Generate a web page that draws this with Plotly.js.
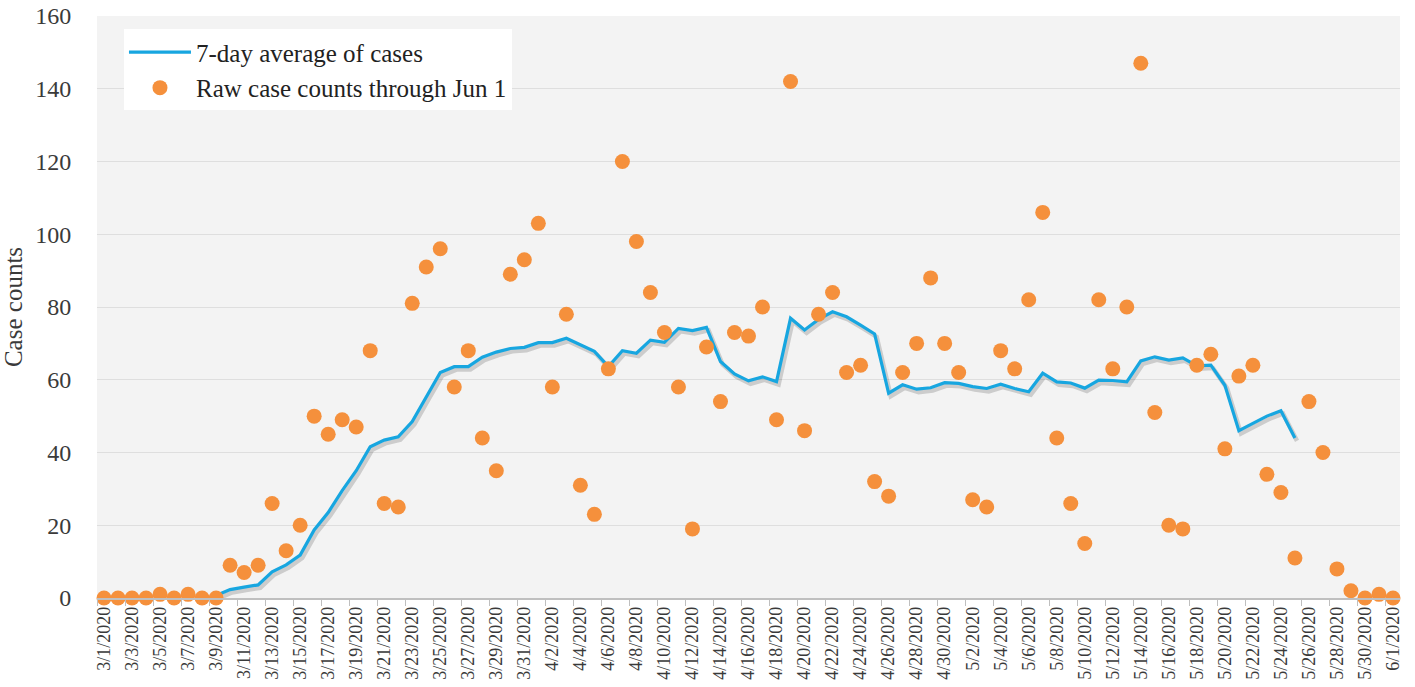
<!DOCTYPE html>
<html>
<head>
<meta charset="utf-8">
<script src="https://cdn.plot.ly/plotly-3.0.1.min.js"></script>
<style>
  html, body { margin: 0; padding: 0; background: #ffffff; }
  #chart { width: 1415px; height: 687px; }
</style>
</head>
<body>
<div id="chart"></div>
<script>
// Category labels (dates)
var dates = [
  "3/1/2020","3/2/2020","3/3/2020","3/4/2020","3/5/2020","3/6/2020","3/7/2020","3/8/2020","3/9/2020","3/10/2020",
  "3/11/2020","3/12/2020","3/13/2020","3/14/2020","3/15/2020","3/16/2020","3/17/2020","3/18/2020","3/19/2020","3/20/2020",
  "3/21/2020","3/22/2020","3/23/2020","3/24/2020","3/25/2020","3/26/2020","3/27/2020","3/28/2020","3/29/2020","3/30/2020","3/31/2020",
  "4/1/2020","4/2/2020","4/3/2020","4/4/2020","4/5/2020","4/6/2020","4/7/2020","4/8/2020","4/9/2020","4/10/2020",
  "4/11/2020","4/12/2020","4/13/2020","4/14/2020","4/15/2020","4/16/2020","4/17/2020","4/18/2020","4/19/2020","4/20/2020",
  "4/21/2020","4/22/2020","4/23/2020","4/24/2020","4/25/2020","4/26/2020","4/27/2020","4/28/2020","4/29/2020","4/30/2020",
  "5/1/2020","5/2/2020","5/3/2020","5/4/2020","5/5/2020","5/6/2020","5/7/2020","5/8/2020","5/9/2020","5/10/2020",
  "5/11/2020","5/12/2020","5/13/2020","5/14/2020","5/15/2020","5/16/2020","5/17/2020","5/18/2020","5/19/2020","5/20/2020",
  "5/21/2020","5/22/2020","5/23/2020","5/24/2020","5/25/2020","5/26/2020","5/27/2020","5/28/2020","5/29/2020","5/30/2020","5/31/2020",
  "6/1/2020"
];

// Raw daily case counts
var rawCases = [
  0,0,0,0,1,0,1,0,0,
  9,7,9,26,13,20,50,45,49,47,68,26,25,81,91,96,58,68,44,35,89,93,
  103,58,78,31,23,63,120,98,84,73,58,19,69,54,73,72,80,49,142,46,78,84,62,64,32,28,62,70,88,70,
  62,27,25,68,63,82,106,44,26,15,82,63,80,147,51,20,19,64,67,41,61,64,34,29,11,54,40,8,2,0,1,
  0
];

// 7-day average of cases
var avgCases = [
  null,null,null,null,null,null,null,null,
  0.7,2.3,3.0,3.6,7.2,9.1,11.8,18.7,23.5,29.5,35,41.6,43.4,44.3,48.5,55.3,62,63.6,63.6,66.2,67.6,68.6,68.9,
  70.2,70.2,71.4,69.6,67.8,63.6,68,67.3,70.9,70.3,74.1,73.5,74.4,65,61.6,59.7,60.8,59.5,76.9,73.7,
  76.6,78.7,77.3,75,72.6,56.3,58.6,57.4,57.8,59.2,
  59,58.1,57.6,58.8,57.6,56.7,61.8,59.4,59.1,57.7,59.9,59.8,59.4,65.2,66.3,65.4,66,63.8,64,58.5,
  46,48,50,51.5,44,
  null,null,null,null,null,null,
  null
];

var yTickVals = [0,20,40,60,80,100,120,140,160];

var FONT = "'Liberation Serif', 'DejaVu Serif', serif";
var TXT = "#3a3a3a";

var traces = [
  { // soft drop shadow of the average line (base axes, offset range)
    x: dates, y: avgCases, xaxis: "x", yaxis: "y",
    type: "scatter", mode: "lines", showlegend: false, hoverinfo: "skip",
    line: { color: "rgba(0,0,0,0.16)", width: 4.5 }
  },
  {
    x: dates, y: avgCases, xaxis: "x2", yaxis: "y2",
    type: "scatter", mode: "lines", name: "7-day average of cases",
    line: { color: "#17a6e0", width: 3.2 }
  },
  {
    x: dates, y: rawCases, xaxis: "x2", yaxis: "y2",
    type: "scatter", mode: "markers", name: "Raw case counts through Jun 1",
    cliponaxis: false,
    marker: { color: "#f5903c", size: 15 }
  }
];

var layout = {
  width: 1415, height: 687,
  margin: { l: 97, r: 15, t: 16, b: 89 },
  paper_bgcolor: "#ffffff",
  plot_bgcolor: "#f3f3f3",
  font: { family: FONT, color: TXT, size: 24 },
  showlegend: true,
  legend: {
    x: 0.0207, y: 0.977, xanchor: "left", yanchor: "top",
    bgcolor: "#ffffff", borderwidth: 0,
    itemwidth: 62,
    font: { family: FONT, size: 25, color: "#222222" },
    tracegroupgap: 0
  },
  xaxis: {
    type: "category", range: [-0.5 - 0.15, 92.5 - 0.15],
    visible: false, fixedrange: true
  },
  yaxis: {
    range: [0.8, 160.8], visible: false, fixedrange: true
  },
  xaxis2: {
    type: "category", overlaying: "x", anchor: "y2",
    range: [-0.5, 92.5],
    dtick: 2, tick0: 0,
    tickson: "boundaries",
    ticks: "outside", ticklen: 6, tickcolor: "#bfbfbf", tickwidth: 1,
    tickangle: -90,
    tickfont: { family: FONT, size: 18, color: TXT },
    showgrid: false,
    showline: true, linecolor: "#bfbfbf", linewidth: 1.5,
    zeroline: false, fixedrange: true
  },
  yaxis2: {
    overlaying: "y", anchor: "x2",
    range: [0, 160],
    tickvals: yTickVals,
    ticks: "outside", ticklen: 20, tickcolor: "rgba(0,0,0,0)",
    tickfont: { family: FONT, size: 24, color: TXT },
    showgrid: true, gridcolor: "#dedede", gridwidth: 1,
    showline: false, zeroline: false, fixedrange: true,
    title: { text: "Case counts", font: { family: FONT, size: 25, color: TXT }, standoff: 8 }
  }
};

Plotly.newPlot("chart", traces, layout, { displayModeBar: false, staticPlot: true });
</script>
</body>
</html>
